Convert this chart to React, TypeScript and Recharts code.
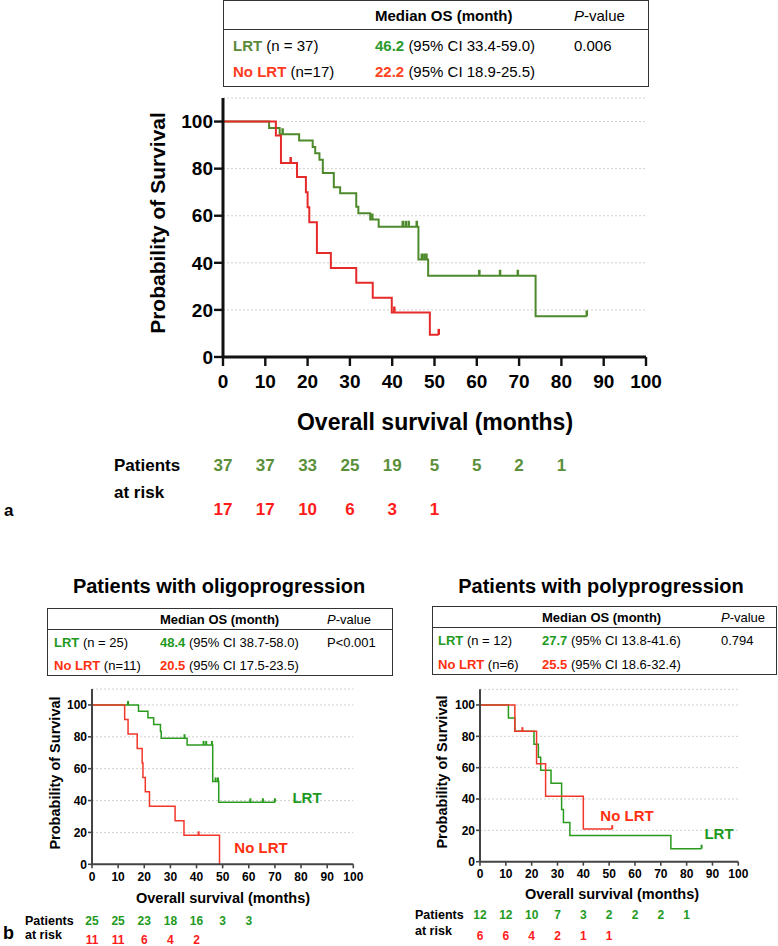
import React from "react";
import { LineChart, Line, XAxis, YAxis, CartesianGrid } from "recharts";

const FONT = "'Liberation Sans', Arial, Helvetica, sans-serif";

// ---------- panel a (all patients)
const aLrtTimes = [0, 10.9, 13.4, 18.0, 21.2, 21.8, 22.8, 23.6, 26.2, 27.7, 31.5, 32.0, 34.8, 36.8, 46.2, 48.5, 73.9];
const aLrtSurv = [100, 97.3, 94.6, 91.9, 89.2, 86.5, 83.8, 78.1, 72.1, 69.5, 63.8, 61.0, 58.4, 55.3, 41.4, 34.5, 17.3];
const aLrtCensor = [14.1, 35.3, 42.5, 43.2, 43.9, 45.8, 47.0, 47.6, 48.1, 60.6, 65.5, 69.7, 86.0];
const aNoTimes = [0, 12.5, 13.7, 17.5, 19.6, 20.0, 20.4, 22.2, 25.5, 31.5, 35.4, 39.9, 48.9];
const aNoSurv = [100, 94.1, 82.4, 76.5, 70.0, 63.6, 57.2, 44.2, 37.8, 31.5, 25.2, 18.9, 9.4];
const aNoCensor = [16.0, 40.5, 51.0];
const aRiskLrt = [37, 37, 33, 25, 19, 5, 5, 2, 1];
const aRiskNo = [17, 17, 10, 6, 3, 1];

// ---------- panel b, oligoprogression
const oLrtTimes = [0, 17.8, 21.4, 23.6, 26.2, 26.5, 36.4, 46.2, 48.5];
const oLrtSurv = [100, 96.0, 92.0, 87.7, 83.4, 79.1, 74.9, 52.0, 38.9];
const oLrtCensor = [13.8, 35.4, 42.7, 43.7, 45.9, 47.3, 48.2, 60.6, 65.4, 70.0];
const oNoTimes = [0, 12.5, 13.8, 17.3, 19.2, 19.5, 20.4, 22.0, 31.8, 35.2, 48.8];
const oNoSurv = [100, 90.9, 81.8, 72.7, 63.6, 54.5, 45.5, 36.4, 27.3, 18.2, 0];
const oNoCensor = [40.8];
const oRiskLrt = [25, 25, 23, 18, 16, 3, 3];
const oRiskNo = [11, 11, 6, 4, 2];

// ---------- panel b, polyprogression
const pLrtTimes = [0, 11.0, 13.5, 20.9, 22.6, 23.5, 27.5, 31.6, 32.3, 34.8, 73.9];
const pLrtSurv = [100, 91.7, 83.3, 75.0, 66.7, 58.3, 50.0, 33.3, 25.0, 16.7, 8.3];
const pLrtCensor = [85.8];
const pNoTimes = [0, 13.5, 21.9, 25.4, 40.0];
const pNoSurv = [100, 83.3, 62.5, 41.7, 20.8];
const pNoCensor = [16.4, 51.2];
const pRiskLrt = [12, 12, 10, 7, 3, 2, 2, 2, 1];
const pRiskNo = [6, 6, 4, 2, 1, 1];

// ---------- stats tables
const groups = ["LRT", "No LRT"];
const aNs = ["(n = 37)", "(n=17)"];
const aMedians = ["46.2", "22.2"];
const aCis = ["(95% CI 33.4-59.0)", "(95% CI 18.9-25.5)"];
const oNs = ["(n = 25)", "(n=11)"];
const oMedians = ["48.4", "20.5"];
const oCis = ["(95% CI 38.7-58.0)", "(95% CI 17.5-23.5)"];
const pNs = ["(n = 12)", "(n=6)"];
const pMedians = ["27.7", "25.5"];
const pCis = ["(95% CI 13.8-41.6)", "(95% CI 18.6-32.4)"];

const xTicks = [0, 10, 20, 30, 40, 50, 60, 70, 80, 90, 100];
const yTicks = [0, 20, 40, 60, 80, 100];

function km(times: number[], surv: number[], censor: number[]) {
  const pts = times.map((t, i) => ({ t, s: surv[i], c: false }));
  censor.forEach((ct) => {
    let s = 100;
    times.forEach((t, i) => { if (t <= ct) s = surv[i]; });
    pts.push({ t: ct, s, c: true });
  });
  return pts.sort((a, b) => a.t - b.t || (a.c ? 1 : 0) - (b.c ? 1 : 0));
}

function Txt({ x, y, size, bold = true, color = "#000", center = false, children }: any) {
  return (
    <div style={{
      position: "absolute", left: x, top: y, whiteSpace: "nowrap", lineHeight: 1,
      transform: center ? "translate(-50%,-50%)" : "translateY(-50%)",
      fontSize: size, fontWeight: bold ? "bold" : "normal", color, fontFamily: FONT,
    }}>{children}</div>
  );
}

function StatTable({ box, lineY, rowY, cols, size, ns, medians, cis, p, labelColors, medColors, border }: any) {
  const [l, t, w, h] = box;
  return (
    <>
      <div style={{ position: "absolute", left: l, top: t, width: w, height: h, border: `${border}px solid #333`, boxSizing: "border-box" }} />
      <div style={{ position: "absolute", left: l, top: lineY, width: w, height: 0, borderTop: `${border}px solid #333` }} />
      <Txt x={cols[1]} y={rowY[0]} size={size}>Median OS (month)</Txt>
      <Txt x={cols[2]} y={rowY[0]} size={size} bold={false}><i>P</i>-value</Txt>
      {groups.map((g, i) => (
        <React.Fragment key={g}>
          <Txt x={cols[0]} y={rowY[i + 1]} size={size} bold={false}>
            <b style={{ color: labelColors[i] }}>{g}</b> {ns[i]}
          </Txt>
          <Txt x={cols[1]} y={rowY[i + 1]} size={size} bold={false}>
            <b style={{ color: medColors[i] }}>{medians[i]}</b> {cis[i]}
          </Txt>
        </React.Fragment>
      ))}
      <Txt x={cols[2]} y={rowY[1]} size={size} bold={false}>{p}</Txt>
    </>
  );
}

function KMPanel(props: any) {
  const { left, top, width, height, margin, yWidth, xHeight, series, axisW, axisColor, tickSize,
    yTickFont, xTickFont, riskFont, labelDy, riskDy, risks, riskColors, censorLen } = props;

  const XTick = (p: any) => {
    const i = xTicks.indexOf(p.payload.value);
    return (
      <g>
        <text x={p.x} y={p.y + labelDy} textAnchor="middle" fontSize={xTickFont} fontWeight="bold" fill="#000" fontFamily={FONT}>
          {p.payload.value}
        </text>
        {risks.map((r: number[], k: number) =>
          r[i] !== undefined ? (
            <text key={k} x={p.x} y={p.y + riskDy[k]} textAnchor="middle" fontSize={riskFont} fontWeight="bold" fill={riskColors[k]} fontFamily={FONT}>
              {r[i]}
            </text>
          ) : null
        )}
      </g>
    );
  };

  return (
    <div style={{ position: "absolute", left, top }}>
      <LineChart width={width} height={height} margin={margin}>
        <CartesianGrid vertical={false} stroke="#d0d0d0" strokeDasharray="2 2" />
        <XAxis type="number" dataKey="t" domain={[0, 100]} ticks={xTicks} height={xHeight}
          axisLine={{ stroke: axisColor, strokeWidth: axisW }} tickLine={{ stroke: axisColor, strokeWidth: axisW * 0.8 }}
          tickSize={tickSize} tickMargin={2} tick={XTick} interval={0} />
        <YAxis type="number" domain={[0, 110]} ticks={yTicks} width={yWidth}
          axisLine={{ stroke: axisColor, strokeWidth: axisW }} tickLine={{ stroke: axisColor, strokeWidth: axisW * 0.8 }}
          tickSize={tickSize} tickMargin={1} interval={0}
          tick={{ fontSize: yTickFont, fontWeight: "bold", fill: "#000", fontFamily: FONT }} />
        {series.map((s: any, k: number) => (
          <Line key={k} data={s.data} dataKey="s" type="stepAfter" stroke={s.color} strokeWidth={s.width}
            isAnimationActive={false} activeDot={false}
            dot={(d: any) => d.payload.c
              ? <line key={`c${k}-${d.index}`} x1={d.cx} x2={d.cx} y1={d.cy} y2={d.cy - censorLen} stroke={s.color} strokeWidth={s.width + 0.5} />
              : <g key={`n${k}-${d.index}`} />} />
        ))}
      </LineChart>
    </div>
  );
}

const GREEN_A = "#4e8a2c";
const RED_A = "#e62a2a";
const GREEN_B = "#2a9a1e";
const RED_B = "#f2372a";

export default function App() {
  return (
    <div style={{ position: "absolute", left: 0, top: 0, width: 778, height: 946, background: "#fff", fontFamily: FONT, overflow: "hidden" }}>
      {/* panel a table */}
      <StatTable box={[223, 0, 426, 87]} lineY={29} rowY={[15, 45, 71]} cols={[233, 375, 574]} size={15}
        ns={aNs} medians={aMedians} cis={aCis} p="0.006" border={1.5}
        labelColors={["#5a8a3a", "#ff3b1e"]} medColors={["#2c9a2c", "#ff4422"]} />

      <KMPanel left={0} top={90} width={778} height={430}
        margin={{ top: 8, right: 132, left: 163, bottom: 0 }} yWidth={60} xHeight={163}
        series={[
          { data: km(aLrtTimes, aLrtSurv, aLrtCensor), color: GREEN_A, width: 2 },
          { data: km(aNoTimes, aNoSurv, aNoCensor), color: RED_A, width: 2 },
        ]}
        axisW={3} axisColor="#111" tickSize={9} yTickFont={19} xTickFont={19} riskFont={17}
        labelDy={20} riskDy={[103, 147]} risks={[aRiskLrt, aRiskNo]} riskColors={["#5b8f3a", "#ff1a1a"]} censorLen={6} />

      <Txt x={157} y={223} size={21} center>
        <div style={{ transform: "rotate(-90deg)" }}>Probability of Survival</div>
      </Txt>
      <Txt x={435} y={422} size={23} center>Overall survival (months)</Txt>
      <Txt x={114} y={465} size={17}>Patients</Txt>
      <Txt x={114} y={492} size={17}>at risk</Txt>
      <Txt x={4} y={510} size={17}>a</Txt>

      {/* panel b titles */}
      <Txt x={219} y={586} size={20} center>Patients with oligoprogression</Txt>
      <Txt x={601} y={586} size={20} center>Patients with polyprogression</Txt>

      <StatTable box={[47, 608, 346, 68]} lineY={629} rowY={[619, 642, 665]} cols={[54, 160, 327]} size={13}
        ns={oNs} medians={oMedians} cis={oCis} p="P<0.001" border={1.5}
        labelColors={["#1e9a1e", "#ff3010"]} medColors={["#1e9a1e", "#ff3010"]} />
      <StatTable box={[432, 606, 345, 69]} lineY={627} rowY={[617, 640, 664]} cols={[438, 542, 721]} size={13}
        ns={pNs} medians={pMedians} cis={pCis} p="0.794" border={1.5}
        labelColors={["#1e9a1e", "#ff3010"]} medColors={["#1e9a1e", "#ff3010"]} />

      <KMPanel left={0} top={680} width={400} height={266}
        margin={{ top: 9, right: 46.7, left: 52, bottom: 0 }} yWidth={40} xHeight={81.7}
        series={[
          { data: km(oLrtTimes, oLrtSurv, oLrtCensor), color: GREEN_B, width: 1.5 },
          { data: km(oNoTimes, oNoSurv, oNoCensor), color: RED_B, width: 1.5 },
        ]}
        axisW={2} axisColor="#444" tickSize={4} yTickFont={12} xTickFont={12} riskFont={12}
        labelDy={10.7} riskDy={[55, 74]} risks={[oRiskLrt, oRiskNo]} riskColors={["#1e9a1e", "#ff1a1a"]} censorLen={4} />

      <KMPanel left={390} top={680} width={388} height={266}
        margin={{ top: 9.3, right: 39.7, left: 50, bottom: 0 }} yWidth={40} xHeight={84.3}
        series={[
          { data: km(pLrtTimes, pLrtSurv, pLrtCensor), color: GREEN_B, width: 1.5 },
          { data: km(pNoTimes, pNoSurv, pNoCensor), color: RED_B, width: 1.5 },
        ]}
        axisW={2} axisColor="#444" tickSize={4} yTickFont={12} xTickFont={12} riskFont={12}
        labelDy={10.6} riskDy={[51.6, 72.6]} risks={[pRiskLrt, pRiskNo]} riskColors={["#1e9a1e", "#ff1a1a"]} censorLen={4} />

      <Txt x={55} y={773} size={14.5} center>
        <div style={{ transform: "rotate(-90deg)" }}>Probability of Survival</div>
      </Txt>
      <Txt x={442} y={772} size={14.5} center>
        <div style={{ transform: "rotate(-90deg)" }}>Probability of Survival</div>
      </Txt>
      <Txt x={307} y={797} size={15} center color="#1e9a1e">LRT</Txt>
      <Txt x={261} y={847} size={15} center color="#ff3010">No LRT</Txt>
      <Txt x={627} y={815} size={15} center color="#ff3010">No LRT</Txt>
      <Txt x={719} y={833} size={15} center color="#1e9a1e">LRT</Txt>

      <Txt x={223} y={898} size={14.5} center>Overall survival (months)</Txt>
      <Txt x={612} y={894} size={14.5} center>Overall survival (months)</Txt>
      <Txt x={25} y={921} size={12.5}>Patients</Txt>
      <Txt x={25} y={935} size={12.5}>at risk</Txt>
      <Txt x={415} y={915} size={12.5}>Patients</Txt>
      <Txt x={415} y={931} size={12.5}>at risk</Txt>
      <Txt x={3} y={933} size={18}>b</Txt>
    </div>
  );
}
